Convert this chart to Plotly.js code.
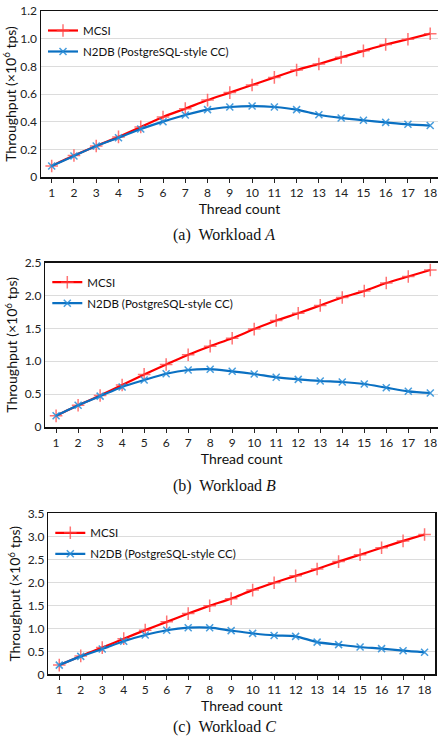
<!DOCTYPE html>
<html>
<head>
<meta charset="utf-8">
<script src="https://cdn.plot.ly/plotly-3.0.1.min.js"></script>
<style>html,body{margin:0;padding:0;background:#fff;}#chart{width:438px;height:738px;}</style>
</head>
<body>
<div id="chart"></div>
<script>
const threads = [1,2,3,4,5,6,7,8,9,10,11,12,13,14,15,16,17,18];
const mcsiA = [0.08,0.155,0.224,0.29,0.362,0.434,0.494,0.556,0.61,0.665,0.72,0.773,0.817,0.865,0.912,0.958,0.996,1.036];
const n2dbA = [0.08,0.152,0.224,0.284,0.347,0.40,0.448,0.487,0.506,0.513,0.506,0.487,0.45,0.427,0.41,0.395,0.381,0.372];
const mcsiB = [0.17,0.33,0.48,0.64,0.80,0.95,1.10,1.23,1.35,1.49,1.62,1.73,1.85,1.97,2.07,2.19,2.29,2.39];
const n2dbB = [0.17,0.33,0.47,0.61,0.715,0.81,0.867,0.88,0.847,0.806,0.756,0.725,0.70,0.685,0.654,0.598,0.543,0.517];
const mcsiC = [0.20,0.40,0.58,0.775,0.96,1.14,1.32,1.49,1.645,1.83,1.99,2.14,2.29,2.45,2.60,2.75,2.90,3.04];
const n2dbC = [0.20,0.39,0.55,0.72,0.855,0.957,1.014,1.014,0.95,0.89,0.845,0.825,0.70,0.645,0.594,0.558,0.514,0.478];
const seriesNames = ['MCSI','N2DB (PostgreSQL-style CC)'];
const captions = ['(a)  Workload <i>A</i>','(b)  Workload <i>B</i>','(c)  Workload <i>C</i>'];
const yTicksA = [0,0.2,0.4,0.6,0.8,1.0,1.2];
const yTicksB = [0,0.5,1.0,1.5,2.0,2.5];
const yTicksC = [0,0.5,1.0,1.5,2.0,2.5,3.0,3.5];

const W = 438, H = 738;
const panels = [
  {m: mcsiA, n: n2dbA, ticks: yTicksA, x0: 41, x1: 438, top: 11, bot: 177, xr: [0.52, 18.35], cap: 235, so: 1},
  {m: mcsiB, n: n2dbB, ticks: yTicksB, x0: 45.3, x1: 438, top: 262.7, bot: 427, xr: [0.51, 18.35], cap: 486, so: 3},
  {m: mcsiC, n: n2dbC, ticks: yTicksC, x0: 48.3, x1: 435.3, top: 513.3, bot: 674.3, xr: [0.49, 18.5], cap: 727, so: 1}
];
const red = '#ff0000', blue = '#0a70c2';
const fam = 'Lato, "Open Sans", sans-serif';
const tickFont = {family: fam, size: 12, color: '#222'};
const data = [];
const layout = {
  width: W, height: H, margin: {l: 0, r: 0, t: 0, b: 0},
  paper_bgcolor: '#fff', plot_bgcolor: '#fff', showlegend: true,
  annotations: [], font: tickFont
};
panels.forEach((p, i) => {
  const sfx = i === 0 ? '' : String(i + 1);
  const xa = 'x' + sfx, ya = 'y' + sfx, lg = 'legend' + sfx;
  data.push({
    x: threads, y: p.m, name: seriesNames[0], xaxis: xa, yaxis: ya, legend: lg,
    type: 'scatter', mode: 'lines+markers', legendgroup: 'm' + i,
    line: {color: red, width: 2.2, shape: 'spline', smoothing: 0.6},
    marker: {symbol: 'cross-thin-open', size: 9, color: 'rgba(255,70,70,0.75)', line: {color: 'rgba(255,70,70,0.75)', width: 1.5}}
  });
  data.push({
    x: threads, y: p.n, name: seriesNames[1], xaxis: xa, yaxis: ya, legend: lg,
    type: 'scatter', mode: 'lines+markers', legendgroup: 'n' + i,
    line: {color: blue, width: 2.2, shape: 'spline', smoothing: 0.8},
    marker: {symbol: 'x-thin-open', size: 7, color: 'rgba(40,140,215,0.85)', line: {color: 'rgba(40,140,215,0.85)', width: 1.5}}
  });
  const ymax = p.ticks[p.ticks.length - 1];
  layout['xaxis' + sfx] = {
    domain: [p.x0 / W, p.x1 / W], anchor: ya, range: p.xr,
    tickvals: threads, ticktext: threads.map(String), ticks: 'outside', ticklen: 4, tickcolor: '#222',
    showline: true, linecolor: '#111', linewidth: 1.5, mirror: true, showgrid: false, zeroline: false,
    tickfont: tickFont,
    title: {text: 'Thread count', font: {family: fam, size: 14, color: '#111'}, standoff: p.so}
  };
  layout['yaxis' + sfx] = {
    domain: [1 - p.bot / H, 1 - p.top / H], anchor: xa, range: [0, ymax],
    tickvals: p.ticks, ticktext: p.ticks.map(v => v === 0 ? '0' : v.toFixed(1)),
    showline: true, linecolor: '#111', linewidth: 1.5, mirror: true,
    showgrid: true, gridcolor: '#dcdcdc', gridwidth: 1, zeroline: false, ticks: '',
    tickfont: tickFont,
    title: {text: 'Throughput (×10<sup>6</sup> tps)', font: {family: fam, size: 14, color: '#111'}, standoff: 3}
  };
  layout[lg] = {
    x: (p.x0 + 2) / W, y: 1 - (p.top + 5) / H, xanchor: 'left', yanchor: 'top',
    bgcolor: 'rgba(0,0,0,0)', font: {family: fam, size: 11.5, color: '#111'},
    tracegroupgap: 2, itemwidth: 30
  };
  layout.annotations.push({
    xref: 'paper', yref: 'paper', x: 224 / W, y: 1 - p.cap / H, xanchor: 'center', yanchor: 'middle',
    text: captions[i], showarrow: false,
    font: {family: '"Liberation Serif", "Times New Roman", serif', size: 16, color: '#111'}
  });
});
Plotly.newPlot('chart', data, layout, {displayModeBar: false, staticPlot: true});
</script>
</body>
</html>
